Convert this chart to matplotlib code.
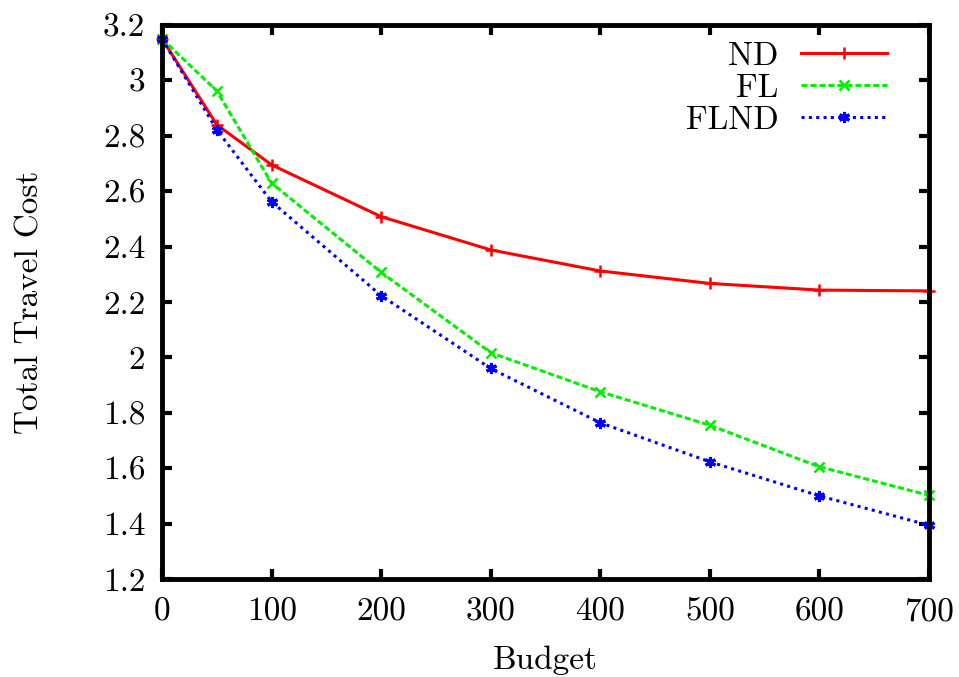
import matplotlib
matplotlib.use("Agg")
import matplotlib.pyplot as plt
from matplotlib.ticker import FuncFormatter

plt.rcParams['font.family'] = ['cmr10', 'DejaVu Serif']
plt.rcParams['mathtext.fontset'] = 'cm'
plt.rcParams['axes.formatter.use_mathtext'] = True

budget = [0, 50, 100, 200, 300, 400, 500, 600, 700]
nd = [3.15, 2.84, 2.695, 2.508, 2.388, 2.312, 2.267, 2.243, 2.240]
fl = [3.15, 2.962, 2.629, 2.307, 2.017, 1.876, 1.755, 1.605, 1.502]
flnd = [3.15, 2.822, 2.562, 2.223, 1.960, 1.764, 1.623, 1.500, 1.394]

xticks = [0, 100, 200, 300, 400, 500, 600, 700]
yticks = [1.2, 1.4, 1.6, 1.8, 2.0, 2.2, 2.4, 2.6, 2.8, 3.0, 3.2]

FS = 24

fig = plt.figure(figsize=(9.59, 6.77), dpi=100)
ax = fig.add_axes([162/959, 1 - 579/677, (929-162)/959, (579-25)/677])

ax.plot(budget, nd, color='#ff0000', lw=2.2, ls='-', marker='+', ms=9, mew=1.8,
        label='ND', clip_on=False)
ax.plot(budget, fl, color='#00f000', lw=2.2, ls=(0, (1.96, 0.98)), marker='x', ms=7.5, mew=1.8,
        label='FL', clip_on=False)
ax.plot(budget, flnd, color='#0000ff', lw=2.2, ls=(0, (1.0, 1.4)), marker=(6, 2, 0), ms=8, mew=2.2,
        label='FLND', clip_on=False)

ax.set_xlim(0, 700)
ax.set_ylim(1.2, 3.2)
ax.set_xticks(xticks)
ax.set_yticks(yticks)
ax.yaxis.set_major_formatter(FuncFormatter(lambda v, p: '%g' % round(v, 1)))
ax.xaxis.set_major_formatter(FuncFormatter(lambda v, p: '%d' % v))

ax.tick_params(direction='in', length=7, width=3, top=True, right=True,
               labelsize=FS)
ax.tick_params(axis='x', pad=13)
ax.tick_params(axis='y', pad=12)
for s in ax.spines.values():
    s.set_linewidth(3.5)

ax.set_xlabel('Budget', fontsize=FS, labelpad=14)
ax.set_ylabel('Total Travel Cost', fontsize=FS, labelpad=42)

leg = ax.legend(loc='upper right', frameon=False, markerfirst=False, numpoints=1,
                fontsize=FS, handlelength=2.6, handletextpad=0.66, labelspacing=0.08,
                borderaxespad=0.0, bbox_to_anchor=(0.963, 0.9946))

fig.savefig('out.png', dpi=100)
